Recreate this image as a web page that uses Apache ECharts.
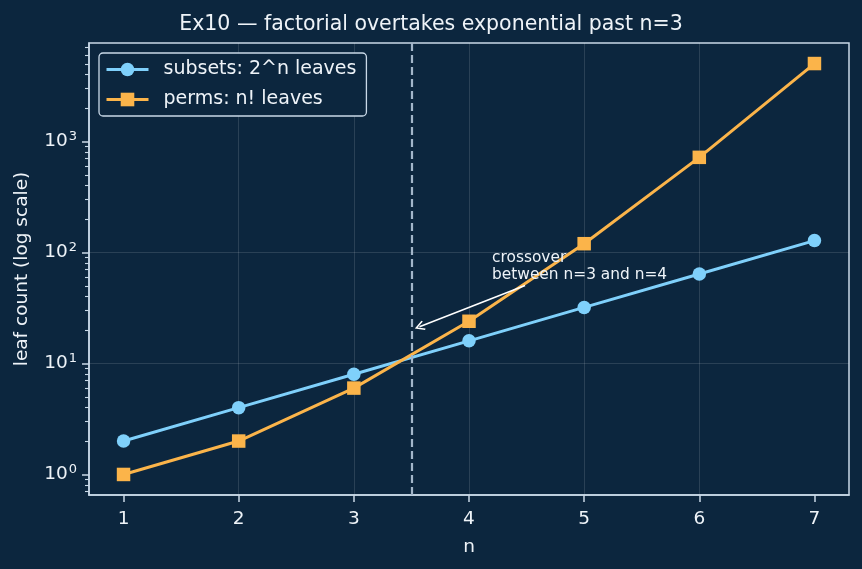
<!DOCTYPE html>
<html>
<head>
<meta charset="utf-8">
<script src="https://cdn.jsdelivr.net/npm/echarts@6/dist/echarts.min.js"></script>
<style>
html,body{margin:0;padding:0;background:#0c263e;}
#c{width:862px;height:569px;}
</style>
</head>
<body>
<div id="c"></div>
<script>
const ns = [1, 2, 3, 4, 5, 6, 7];
const subsets = [2, 4, 8, 16, 32, 64, 128];
const perms = [1, 2, 6, 24, 120, 720, 5040];
const yMajorTicks = [1, 10, 100, 1000];
const yMinorTicks = [0.7, 0.8, 0.9, 2, 3, 4, 5, 6, 7, 8, 9, 20, 30, 40, 50, 60, 70, 80, 90,
  200, 300, 400, 500, 600, 700, 800, 900, 2000, 3000, 4000, 5000, 6000, 7000];
const crossoverX = 3.5;
const annotPoint = [3.57, 21.4];
const annotTextPos = [4.2, 60];
const annotArrowStart = [4.487, 50.4];
const annotText = 'crossover\nbetween n=3 and n=4';

const allVals = subsets.concat(perms);
const lo = Math.log10(Math.min.apply(null, allVals));
const hi = Math.log10(Math.max.apply(null, allVals));
const span = hi - lo;
const yMin = Math.pow(10, lo - 0.05 * span);
const yMax = Math.pow(10, hi + 0.05 * span);
const xMin = ns[0] - 0.05 * (ns[ns.length - 1] - ns[0]);
const xMax = ns[ns.length - 1] + 0.05 * (ns[ns.length - 1] - ns[0]);

const FG = '#eef3f8';
const SPINE = '#c9d9e8';
const GRID = 'rgba(255,255,255,0.16)';
const FONT = 'DejaVu Sans';
const FS = 18.5;

const chart = echarts.init(document.getElementById('c'), null, {renderer: 'canvas'});
chart.setOption({
  backgroundColor: '#0c263e',
  animation: false,
  textStyle: {fontFamily: FONT, color: FG},
  title: {
    text: 'Ex10 — factorial overtakes exponential past n=3',
    left: 'center', top: 9,
    textStyle: {fontFamily: FONT, fontSize: 20.5, fontWeight: 'normal', color: FG}
  },
  legend: {
    orient: 'vertical', left: 99, top: 53,
    backgroundColor: '#0c263e', borderColor: SPINE, borderWidth: 1.3, borderRadius: 4,
    padding: [7, 10, 7, 6], itemGap: 11, itemWidth: 42, itemHeight: 17,
    lineStyle: {width: 3},
    textStyle: {fontFamily: FONT, fontSize: 19, color: FG, padding: [0, 0, 0, 10]},
    data: ['subsets: 2^n leaves', 'perms: n! leaves']
  },
  grid: {
    left: 89, right: 13, top: 43, bottom: 74,
    show: true, borderColor: SPINE, borderWidth: 1.5, backgroundColor: 'transparent'
  },
  xAxis: {
    type: 'value', min: xMin, max: xMax,
    name: 'n', nameLocation: 'middle', nameGap: 43,
    nameTextStyle: {fontFamily: FONT, fontSize: FS, color: FG},
    axisLine: {show: true, lineStyle: {color: SPINE, width: 1.5}},
    axisTick: {show: true, customValues: ns, length: 7, lineStyle: {color: SPINE, width: 1.5}},
    axisLabel: {customValues: ns, fontFamily: FONT, fontSize: FS, color: FG, margin: 15},
    splitLine: {show: true, showMinLine: false, showMaxLine: false, lineStyle: {color: GRID, width: 0.8}}
  },
  yAxis: [{
    type: 'log', logBase: 10, min: yMin, max: yMax,
    name: 'leaf count (log scale)', nameLocation: 'middle', nameGap: 57, nameRotate: 90,
    nameTextStyle: {fontFamily: FONT, fontSize: FS, color: FG},
    axisLine: {show: true, lineStyle: {color: SPINE, width: 1.5}},
    axisTick: {show: true, customValues: yMajorTicks, length: 7, lineStyle: {color: SPINE, width: 1.5}},
    axisLabel: {
      customValues: yMajorTicks, margin: 12,
      formatter: function (v) { return '{b|10}{s|' + Math.round(Math.log10(v)) + '}'; },
      rich: {
        b: {fontFamily: FONT, fontSize: FS, color: FG},
        s: {fontFamily: FONT, fontSize: 13, color: FG, padding: [0, 0, 10, 1]}
      }
    },
    splitLine: {show: true, showMinLine: false, showMaxLine: false, lineStyle: {color: GRID, width: 0.8}}
  }, {
    type: 'log', logBase: 10, min: yMin, max: yMax, position: 'left',
    axisLine: {show: false},
    axisTick: {show: true, customValues: yMinorTicks, length: 4, lineStyle: {color: SPINE, width: 1.1}},
    axisLabel: {show: false},
    splitLine: {show: false}
  }],
  series: [{
    name: 'subsets: 2^n leaves', type: 'line',
    data: ns.map((n, i) => [n, subsets[i]]),
    symbol: 'circle', symbolSize: 13.5,
    lineStyle: {color: '#7fd0fb', width: 3},
    itemStyle: {color: '#7fd0fb'},
    z: 3,
    markLine: {
      silent: true, symbol: ['none', 'none'],
      label: {show: false},
      lineStyle: {color: '#a3b6ca', type: [8, 4], width: 2.2},
      data: [{xAxis: crossoverX}]
    }
  }, {
    name: 'perms: n! leaves', type: 'line',
    data: ns.map((n, i) => [n, perms[i]]),
    symbol: 'rect', symbolSize: 13.5,
    lineStyle: {color: '#fbb44a', width: 3},
    itemStyle: {color: '#fbb44a'},
    z: 4,
    markLine: {
      silent: true,
      symbol: ['none', 'path://M0,10 L6,0 L12,10 L10.4,11 L6,3.4 L1.6,11 Z'],
      symbolSize: [10, 10],
      label: {show: false},
      lineStyle: {color: '#ffffff', type: 'solid', width: 1.5},
      data: [[{coord: annotArrowStart}, {coord: annotPoint}]]
    },
    markPoint: {
      silent: true, symbol: 'circle', symbolSize: 0,
      data: [{
        coord: annotTextPos,
        label: {
          show: true, formatter: annotText, position: [0, 0], offset: [0, 6],
          align: 'left', verticalAlign: 'bottom',
          fontFamily: FONT, fontSize: 15.4, lineHeight: 17, color: FG
        }
      }]
    }
  }]
});
</script>
</body>
</html>
